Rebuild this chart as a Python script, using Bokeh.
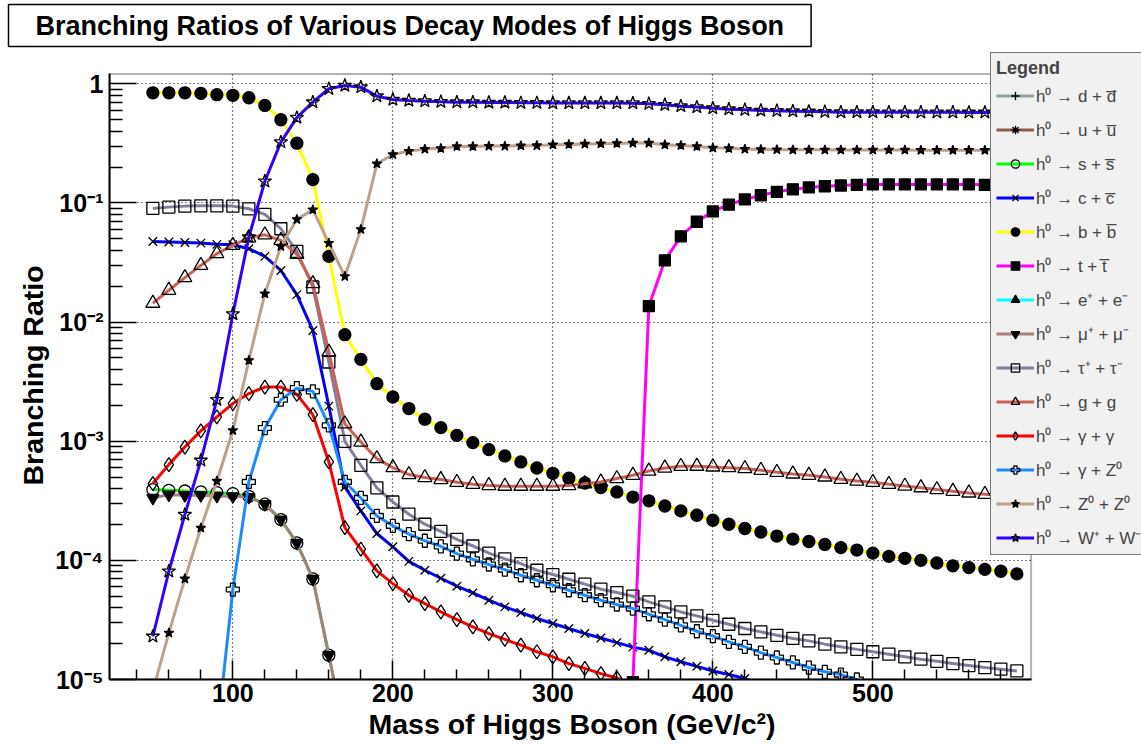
from bokeh.plotting import figure
from bokeh.models import (Range1d, FixedTicker, CustomJSTickFormatter, Legend,
                          LegendItem, BoxAnnotation, Title)
from bokeh.embed import file_html
from bokeh.resources import INLINE

FONT = "Liberation Sans"

# Higgs mass points (GeV/c^2)
MASS = [50, 60, 70, 80, 90, 100, 110, 120, 130, 140, 150, 160, 170, 180, 190,
        200, 210, 220, 230, 240, 250, 260, 270, 280, 290, 300, 310, 320, 330,
        340, 350, 360, 370, 380, 390, 400, 410, 420, 430, 440, 450, 460, 470,
        480, 490, 500, 510, 520, 530, 540, 550, 560, 570, 580, 590]

# Branching ratios
BR_DD = [1.9e-6, 1.9e-6, 1.8e-6, 1.8e-6, 1.8e-6, 1.7e-6, 1.6e-6, 1.4e-6, 1.0e-6,
         6.5e-7, 3.3e-7, 7.5e-8, 1.6e-8]
BR_UU = [2.6e-7, 2.6e-7, 2.5e-7, 2.5e-7, 2.4e-7, 2.4e-7, 2.3e-7, 1.9e-7, 1.4e-7,
         9.0e-8, 4.5e-8, 1.0e-8, 2.2e-9]
BR_SS = [3.93e-4, 3.87e-4, 3.82e-4, 3.75e-4, 3.70e-4, 3.63e-4, 3.45e-4, 2.96e-4,
         2.2e-4, 1.4e-4, 6.98e-5, 1.6e-5, 3.5e-6]
BR_CC = [0.0475, 0.047, 0.0465, 0.046, 0.0449, 0.0446, 0.0413, 0.0356, 0.0271, 0.017,
         0.0085, 1.97e-3, 4.13e-4, 2.6e-4, 1.68e-4, 1.3e-4, 9.8e-5, 8.26e-5, 7.08e-5, 6.07e-5,
         5.33e-5, 4.63e-5, 4.07e-5, 3.65e-5, 3.25e-5, 2.95e-5, 2.68e-5, 2.43e-5, 2.23e-5, 2.04e-5,
         1.87e-5, 1.76e-5, 1.55e-5, 1.41e-5, 1.29e-5, 1.18e-5, 1.1e-5, 1.02e-5, 8.9e-6]
BR_BB = [0.84, 0.84, 0.84, 0.83, 0.81, 0.80, 0.763, 0.658, 0.499, 0.317,
         0.157, 0.0356, 0.00783, 0.00486, 0.00304, 0.00235, 0.00188, 0.00153, 0.0013, 0.00112,
         9.73e-4, 8.5e-4, 7.52e-4, 6.7e-4, 5.96e-4, 5.38e-4, 4.89e-4, 4.46e-4, 4.08e-4, 3.75e-4,
         3.40e-4, 3.16e-4, 2.86e-4, 2.6e-4, 2.39e-4, 2.17e-4, 2.01e-4, 1.85e-4, 1.73e-4, 1.6e-4,
         1.51e-4, 1.44e-4, 1.36e-4, 1.28e-4, 1.22e-4, 1.15e-4, 1.08e-4, 1.04e-4, 1.0e-4, 9.5e-5,
         9.0e-5, 8.7e-5, 8.4e-5, 8.1e-5, 7.7e-5]
BR_TT = [9.5e-6, 0.0136, 0.033, 0.0524, 0.0695, 0.0849, 0.0966, 0.107, 0.116, 0.124,
         0.13, 0.135, 0.138, 0.14, 0.142, 0.143, 0.143, 0.143, 0.143, 0.143,
         0.143, 0.143, 0.142, 0.141, 0.141]
BR_EE = [8.0e-9, 8.2e-9, 8.1e-9, 8.1e-9, 8.0e-9, 7.9e-9, 7.8e-9, 6.8e-9, 5.1e-9,
         3.2e-9, 1.6e-9, 3.7e-10, 8.0e-11]
BR_MUMU = [3.34e-4, 3.56e-4, 3.52e-4, 3.52e-4, 3.47e-4, 3.45e-4, 3.40e-4, 2.96e-4,
           2.2e-4, 1.4e-4, 6.98e-5, 1.6e-5, 3.5e-6]
BR_TAUTAU = [0.09, 0.0922, 0.094, 0.0945, 0.0945, 0.094, 0.0893, 0.0801, 0.0607, 0.0392,
             0.0197, 4.62e-3, 9.98e-4, 6.28e-4, 4.06e-4, 3.09e-4, 2.44e-4, 2.01e-4, 1.75e-4, 1.5e-4,
             1.32e-4, 1.15e-4, 1.03e-4, 9.4e-5, 8.26e-5, 7.6e-5, 6.94e-5, 6.31e-5, 5.73e-5, 5.37e-5,
             5.0e-5, 4.48e-5, 4.07e-5, 3.69e-5, 3.42e-5, 3.14e-5, 2.91e-5, 2.68e-5, 2.51e-5, 2.35e-5,
             2.21e-5, 2.11e-5, 1.98e-5, 1.88e-5, 1.79e-5, 1.71e-5, 1.63e-5, 1.55e-5, 1.48e-5, 1.42e-5,
             1.36e-5, 1.31e-5, 1.26e-5, 1.22e-5, 1.18e-5]
BR_GG = [0.0144, 0.0185, 0.0236, 0.0299, 0.0375, 0.044, 0.051, 0.054, 0.0485, 0.037,
         0.021, 5.6e-3, 1.4e-3, 9.85e-4, 7.14e-4, 6.0e-4, 5.25e-4, 4.95e-4, 4.77e-4, 4.52e-4,
         4.35e-4, 4.25e-4, 4.19e-4, 4.19e-4, 4.19e-4, 4.19e-4, 4.25e-4, 4.4e-4, 4.55e-4, 4.86e-4,
         5.18e-4, 5.62e-4, 5.96e-4, 6.15e-4, 6.17e-4, 6.08e-4, 6.0e-4, 5.89e-4, 5.7e-4, 5.48e-4,
         5.31e-4, 5.18e-4, 5.01e-4, 4.79e-4, 4.63e-4, 4.52e-4, 4.35e-4, 4.2e-4, 4.07e-4, 3.93e-4,
         3.8e-4, 3.68e-4, 3.58e-4, 3.5e-4, 3.42e-4]
BR_GAMGAM = [4.41e-4, 6.36e-4, 8.93e-4, 1.22e-3, 1.6e-3, 2.07e-3, 2.51e-3, 2.85e-3, 2.85e-3, 2.47e-3,
             1.67e-3, 6.7e-4, 1.88e-4, 1.24e-4, 8.15e-5, 6.38e-5, 5.09e-5, 4.34e-5, 3.69e-5, 3.18e-5,
             2.76e-5, 2.43e-5, 2.17e-5, 1.94e-5, 1.71e-5, 1.55e-5, 1.36e-5, 1.24e-5, 1.12e-5, 1.03e-5,
             9.0e-6]
BR_GAMZ = [3.3e-6, 5.69e-5, 4.55e-4, 1.29e-3, 2.23e-3, 2.79e-3,
           2.62e-3, 1.36e-3, 4.55e-4, 3.34e-4, 2.36e-4, 1.95e-4, 1.66e-4, 1.46e-4, 1.31e-4, 1.14e-4,
           1.02e-4, 9.23e-5, 8.37e-5, 7.5e-5, 6.81e-5, 6.18e-5, 5.61e-5, 5.1e-5, 4.63e-5, 4.26e-5,
           3.94e-5, 3.53e-5, 3.18e-5, 2.85e-5, 2.54e-5, 2.31e-5, 2.07e-5, 1.88e-5, 1.68e-5, 1.53e-5,
           1.39e-5, 1.26e-5, 1.16e-5, 1.1e-5, 1.0e-5, 8.0e-6]
BR_ZZ = [8.0e-6, 2.46e-5, 7.0e-5, 1.87e-4, 4.63e-4, 1.23e-3, 4.77e-3, 0.0173, 0.0432, 0.0728,
         0.0877, 0.046, 0.0242, 0.06, 0.213, 0.255, 0.272, 0.283, 0.287, 0.298,
         0.298, 0.30, 0.30, 0.302, 0.303, 0.308, 0.31, 0.312, 0.314, 0.316,
         0.318, 0.318, 0.308, 0.304, 0.298, 0.29, 0.287, 0.283, 0.281, 0.28,
         0.279, 0.279, 0.279, 0.278, 0.278, 0.278, 0.278, 0.278, 0.277, 0.277,
         0.277, 0.277, 0.277, 0.277, 0.277]
BR_WW = [2.3e-5, 8.1e-5, 2.42e-4, 6.9e-4, 2.23e-3, 0.0117, 0.0516, 0.152, 0.324, 0.52,
         0.701, 0.908, 0.968, 0.937, 0.787, 0.738, 0.724, 0.715, 0.706, 0.701,
         0.701, 0.697, 0.697, 0.692, 0.692, 0.69, 0.69, 0.69, 0.69, 0.69,
         0.688, 0.679, 0.667, 0.649, 0.637, 0.624, 0.612, 0.605, 0.597, 0.593,
         0.589, 0.586, 0.582, 0.578, 0.578, 0.578, 0.577, 0.577, 0.576, 0.576,
         0.576, 0.575, 0.575, 0.575, 0.575]

LABELS = ["h\u2070 \u2192 d + d\u0305", "h\u2070 \u2192 u + u\u0305",
          "h\u2070 \u2192 s + s\u0305", "h\u2070 \u2192 c + c\u0305",
          "h\u2070 \u2192 b + b\u0305", "h\u2070 \u2192 t + t\u0305",
          "h\u2070 \u2192 e\u207a + e\u207b", "h\u2070 \u2192 \u03bc\u207a + \u03bc\u207b",
          "h\u2070 \u2192 \u03c4\u207a + \u03c4\u207b", "h\u2070 \u2192 g + g",
          "h\u2070 \u2192 \u03b3 + \u03b3", "h\u2070 \u2192 \u03b3 + Z\u2070",
          "h\u2070 \u2192 Z\u2070 + Z\u2070", "h\u2070 \u2192 W\u207a + W\u207b"]

SERIES = [
    (LABELS[0], MASS[0:13], BR_DD, "#8fa39a", "cross", 13, False),
    (LABELS[1], MASS[0:13], BR_UU, "#8b5e4c", "asterisk", 13, False),
    (LABELS[2], MASS[0:13], BR_SS, "#00ff00", "circle", 12, False),
    (LABELS[3], MASS[0:39], BR_CC, "#0000ff", "x", 12, False),
    (LABELS[4], MASS, BR_BB, "#ffff00", "circle", 12, True),
    (LABELS[5], MASS[30:], BR_TT, "#ff00ff", "square", 11, True),
    (LABELS[6], MASS[0:13], BR_EE, "#00ffff", "triangle", 12, True),
    (LABELS[7], MASS[0:13], BR_MUMU, "#a67f7f", "inverted_triangle", 12, True),
    (LABELS[8], MASS, BR_TAUTAU, "#80809c", "square", 12, False),
    (LABELS[9], MASS, BR_GG, "#cc6058", "triangle", 14, False),
    (LABELS[10], MASS[0:31], BR_GAMGAM, "#ff0000", "diamond", 14, False),
    (LABELS[11], MASS[4:46], BR_GAMZ, "#1a8cff", "plus", 13, False),
    (LABELS[12], MASS, BR_ZZ, "#bfa088", "star", 10, True),
    (LABELS[13], MASS, BR_WW, "#3300ff", "star", 14, False),
]

W, H = 1141, 748
# axis box of the chart (data units)
XMIN, XMAX = 22.9, 598.9
YMIN, YMAX = 1e-5, 1.21
# drawing area is extended to the right and top so the legend box can overlap it
XVIEW, YVIEW = 667.9, 2.016

p = figure(width=W, height=H, y_axis_type="log",
           x_range=Range1d(XMIN, XVIEW), y_range=Range1d(YMIN, YVIEW),
           output_backend="svg", toolbar_location=None,
           min_border_left=109, min_border_right=0,
           min_border_top=47, min_border_bottom=69)
p.background_fill_color = "white"
p.border_fill_color = "white"
p.outline_line_color = None

items = []
for label, xs, ys, color, marker, size, filled in SERIES:
    lr = p.line(xs, ys, line_color=color, line_width=3)
    sr = p.scatter(xs, ys, marker=marker, size=size,
                   fill_color="black" if filled else None,
                   fill_alpha=1 if filled else 0,
                   line_color="black", line_width=1.3)
    items.append(LegendItem(label=label, renderers=[lr, sr]))

# axes
p.xaxis.ticker = FixedTicker(ticks=[100, 200, 300, 400, 500],
                             minor_ticks=[40, 60, 80, 120, 140, 160, 180, 220, 240, 260, 280,
                                          320, 340, 360, 380, 420, 440, 460, 480, 520, 540,
                                          560, 580])
p.xgrid.ticker = FixedTicker(ticks=[100, 200, 300, 400, 500])
ymaj = [1e-5, 1e-4, 1e-3, 1e-2, 1e-1, 1]
ymin = [m * 10.0 ** e for e in range(-5, 0) for m in range(2, 10)]
p.yaxis.ticker = FixedTicker(ticks=ymaj, minor_ticks=ymin)
p.ygrid.ticker = FixedTicker(ticks=ymaj)
p.yaxis.formatter = CustomJSTickFormatter(code="""
const e = Math.round(Math.log10(tick));
if (e === 0) { return "1"; }
const sup = {"-": "\u207b", "0": "\u2070", "1": "\u00b9", "2": "\u00b2", "3": "\u00b3",
             "4": "\u2074", "5": "\u2075", "6": "\u2076"};
return "10" + String(e).split("").map(c => sup[c]).join("");
""")
p.xaxis.bounds = (XMIN, XMAX)
p.yaxis.bounds = (YMIN, YMAX)

for ax in (p.xaxis[0], p.yaxis[0]):
    ax.axis_line_width = 2
    ax.major_tick_out = 0
    ax.minor_tick_out = 0
    ax.major_tick_line_width = 1.5
    ax.minor_tick_line_width = 1.5
    ax.major_label_text_font = FONT
    ax.major_label_text_font_style = "bold"
    ax.major_label_text_font_size = "25px"
    ax.major_label_text_color = "black"

p.xaxis.major_tick_in = 19
p.xaxis.minor_tick_in = 10
p.yaxis.major_tick_in = 27
p.yaxis.minor_tick_in = 13
p.xaxis.major_label_standoff = 4
p.yaxis.major_label_standoff = 6

# axis titles, placed beside the axis box (aligned to the box, not the view)
xtitle = Title(text="Mass of Higgs Boson (GeV/c\u00b2)", align="left", offset=259,
               standoff=2, text_font=FONT, text_font_style="bold",
               text_font_size="28.5px", text_color="black", text_line_height=1.0)
p.add_layout(xtitle, "below")
ytitle = Title(text="Branching Ratio", align="left", offset=194,
               standoff=8, text_font=FONT, text_font_style="bold",
               text_font_size="28.5px", text_color="black", text_line_height=1.0)
p.add_layout(ytitle, "left")

for g in (p.xgrid[0], p.ygrid[0]):
    g.grid_line_color = "black"
    g.grid_line_dash = "1 3"
    g.grid_line_width = 1.2
if "cross_bounds" in p.xgrid[0].properties():
    p.xgrid[0].cross_bounds = (YMIN, YMAX)
    p.ygrid[0].cross_bounds = (XMIN, XMAX)

# keep the area outside the axis box blank, then draw the axis box
p.add_layout(BoxAnnotation(bottom=YMAX, fill_color="white", fill_alpha=1,
                           line_color=None, level="underlay"))
p.add_layout(BoxAnnotation(left=XMAX, fill_color="white", fill_alpha=1,
                           line_color=None, level="underlay"))
p.add_layout(BoxAnnotation(left=XMIN, right=XMAX, bottom=YMIN, top=YMAX,
                           fill_alpha=0, line_color="black", line_width=2))

# title box
p.title.text = "Branching Ratios of Various Decay Modes of Higgs Boson"
p.title.text_font = FONT
p.title.text_font_style = "bold"
p.title.text_font_size = "27px"
p.title.text_color = "black"
p.title.align = "left"
p.title.offset = -101
p.title.standoff = 2
p.title.border_line_color = "black"
p.title.border_line_width = 1.5
p.title.background_fill_color = "white"
p.title.padding = (27, 6)

legend = Legend(items=items, location=(881, 124))
legend.title = "Legend"
legend.title_text_font = FONT
legend.title_text_font_style = "bold"
legend.title_text_font_size = "18px"
legend.title_standoff = 5
legend.label_text_font = FONT
legend.label_text_font_size = "17px"
legend.glyph_width = 38
legend.glyph_height = 21
legend.label_height = 21
legend.label_standoff = 2
legend.spacing = 11
legend.padding = 5
legend.margin = 0
legend.background_fill_color = "#f1f1f1"
legend.background_fill_alpha = 1
legend.border_line_color = "black"
legend.border_line_width = 1.5
p.add_layout(legend)

open("out.html", "w").write(file_html(p, INLINE))
